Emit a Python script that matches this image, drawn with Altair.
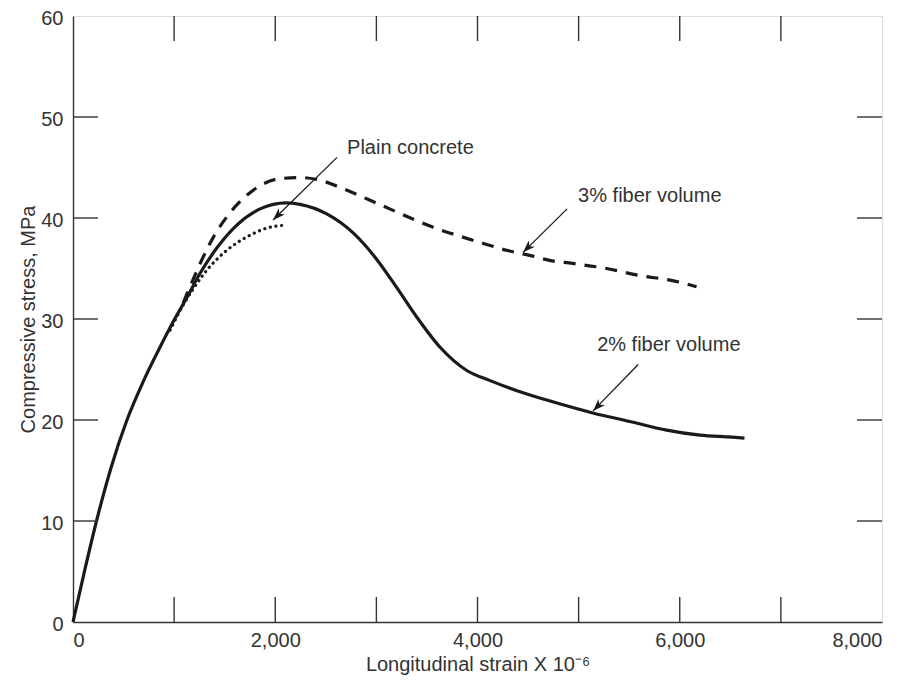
import math
import altair as alt
import pandas as pd

# ---------------- data ----------------
fiber2_strain = [0, 120, 235, 380, 530, 690, 850, 1000, 1130, 1255, 1420, 1620, 1850, 2110,
                 2245, 2509, 2773, 3004, 3202, 3399, 3630, 3894, 4125, 4390, 4710, 5140, 5530,
                 5870, 6200, 6520, 6640]
fiber2_stress = [0, 5.3, 10.1, 15.4, 19.9, 23.7, 27.0, 29.9, 32.2, 34.5, 37.0, 39.3, 40.9, 41.5,
                 41.35, 40.4, 38.5, 35.9, 33.1, 30.2, 27.2, 24.9, 23.9, 22.9, 21.9, 20.7, 19.8,
                 19.0, 18.5, 18.3, 18.2]

fiber3_strain = [1090, 1200, 1300, 1400, 1520, 1680, 1850, 2050, 2250, 2420, 2650, 2905, 3132,
                 3360, 3557, 3794, 4051, 4289, 4516, 4713, 4941, 5277, 5603, 5929, 6166]
fiber3_stress = [31.6, 34.2, 36.4, 38.3, 40.1, 41.9, 43.2, 43.9, 44.0, 43.8, 43.0, 41.9, 40.9,
                 39.9, 39.1, 38.3, 37.5, 36.8, 36.3, 35.8, 35.5, 35.0, 34.3, 33.8, 33.2]

plain_strain = [960, 1090, 1190, 1289, 1421, 1586, 1751, 1916, 2113]
plain_stress = [28.9, 31.4, 33.0, 34.4, 35.9, 37.3, 38.3, 39.0, 39.3]

x_ticks = [1000, 2000, 3000, 4000, 5000, 6000, 7000]
y_ticks = [10, 20, 30, 40, 50]
x_labels = [0, 2000, 4000, 6000, 8000]
y_labels = [0, 10, 20, 30, 40, 50, 60]

label_text = ["Plain concrete", "3% fiber volume", "2% fiber volume"]
label_strain = [2710, 4995, 5183]
label_stress = [46.9, 42.2, 27.4]
arrow_start_strain = [2611, 4886, 5589]
arrow_start_stress = [46.0, 40.9, 25.5]
arrow_tip_strain = [1978, 4451, 5143]
arrow_tip_stress = [39.8, 36.6, 20.9]

# ---------------- layout ----------------
W, H = 809, 606
XMAX, YMAX = 8000, 60
TICK = 25
FONT = "Liberation Sans"
INK = "#1a1a1a"
AX = "#333333"
TXT = "#333333"

xs = alt.Scale(domain=[0, XMAX], nice=False, zero=False)
ys = alt.Scale(domain=[0, YMAX], nice=False, zero=False)

df2 = pd.DataFrame({"strain": fiber2_strain, "stress": fiber2_stress})
df3 = pd.DataFrame({"strain": fiber3_strain, "stress": fiber3_stress})
dfp = pd.DataFrame({"strain": plain_strain, "stress": plain_stress})

xaxis = alt.Axis(values=x_labels, format=",d", ticks=False, grid=False, labelPadding=8,
                 labelFontSize=20, labelFont=FONT, labelColor=TXT, domainColor=AX,
                 domainWidth=1.4, title="Longitudinal strain X 10⁻⁶", titleFont=FONT,
                 titleFontSize=20, titleFontWeight="normal", titleColor=TXT, titlePadding=4)
yaxis = alt.Axis(values=y_labels, ticks=False, grid=False, labelPadding=10, labelFontSize=20,
                 labelOffset=2, labelFont=FONT, labelColor=TXT, domainColor=AX, domainWidth=1.4,
                 title="Compressive stress, MPa", titleFont=FONT, titleFontSize=20,
                 titleFontWeight="normal", titleColor=TXT, titlePadding=2)

plain = alt.Chart(dfp).mark_line(interpolate="monotone", color=INK, strokeWidth=3.2,
                                 strokeDash=[0.1, 5.6], strokeCap="round").encode(
    x=alt.X("strain:Q", scale=xs, axis=xaxis),
    y=alt.Y("stress:Q", scale=ys, axis=yaxis),
)
f3 = alt.Chart(df3).mark_line(interpolate="monotone", color=INK, strokeWidth=3.2,
                              strokeDash=[12, 9]).encode(
    x=alt.X("strain:Q", scale=xs), y=alt.Y("stress:Q", scale=ys))
f2 = alt.Chart(df2).mark_line(interpolate="monotone", color=INK, strokeWidth=3.2).encode(
    x=alt.X("strain:Q", scale=xs), y=alt.Y("stress:Q", scale=ys))

# inward ticks on all four sides
dfx = pd.DataFrame({"t": x_ticks})
dfy = pd.DataFrame({"t": y_ticks})
tick_style = dict(color=AX, strokeWidth=1.4)
bottom_ticks = alt.Chart(dfx).mark_rule(**tick_style).encode(
    x=alt.X("t:Q", scale=xs), y=alt.value(H), y2=alt.value(H - TICK))
top_ticks = alt.Chart(dfx).mark_rule(**tick_style).encode(
    x=alt.X("t:Q", scale=xs), y=alt.value(0), y2=alt.value(TICK))
left_ticks = alt.Chart(dfy).mark_rule(**tick_style).encode(
    y=alt.Y("t:Q", scale=ys), x=alt.value(0), x2=alt.value(TICK))
right_ticks = alt.Chart(dfy).mark_rule(**tick_style).encode(
    y=alt.Y("t:Q", scale=ys), x=alt.value(W), x2=alt.value(W - TICK))

# annotations
dfl = pd.DataFrame({"text": label_text, "strain": label_strain, "stress": label_stress})
labels = alt.Chart(dfl).mark_text(align="left", baseline="middle", font=FONT, fontSize=20,
                                  color=TXT).encode(
    x=alt.X("strain:Q", scale=xs), y=alt.Y("stress:Q", scale=ys), text="text:N")

dfa = pd.DataFrame({"x": arrow_start_strain, "y": arrow_start_stress,
                    "x2": arrow_tip_strain, "y2": arrow_tip_stress})
angles = []
for sx, sy, tx, ty in zip(arrow_start_strain, arrow_start_stress, arrow_tip_strain, arrow_tip_stress):
    dx = (tx - sx) * W / XMAX
    dy = -(ty - sy) * H / YMAX
    angles.append(math.degrees(math.atan2(dx, -dy)) % 360)
dfa["angle"] = angles

shafts = alt.Chart(dfa).mark_rule(color=INK, strokeWidth=1.3).encode(
    x=alt.X("x:Q", scale=xs), y=alt.Y("y:Q", scale=ys), x2="x2:Q", y2="y2:Q")
heads = alt.Chart(dfa).mark_point(shape="M0,0 L-0.36,1 L0,0.72 L0.36,1 Z", filled=True,
                                  color=INK, opacity=1, size=600, strokeWidth=0).encode(
    x=alt.X("x2:Q", scale=xs), y=alt.Y("y2:Q", scale=ys),
    angle=alt.Angle("angle:Q", scale=None))

chart = alt.layer(plain, f3, f2, bottom_ticks, top_ticks, left_ticks, right_ticks,
                  shafts, heads, labels).properties(
    width=W, height=H,
    autosize=alt.AutoSizeParams(type="none"),
    padding={"left": 65, "top": 8, "right": 12, "bottom": 55},
).configure_view(stroke=AX, strokeWidth=1.4).configure(background="white")

chart.save("out.html", embed_options={"renderer": "svg", "actions": False})
